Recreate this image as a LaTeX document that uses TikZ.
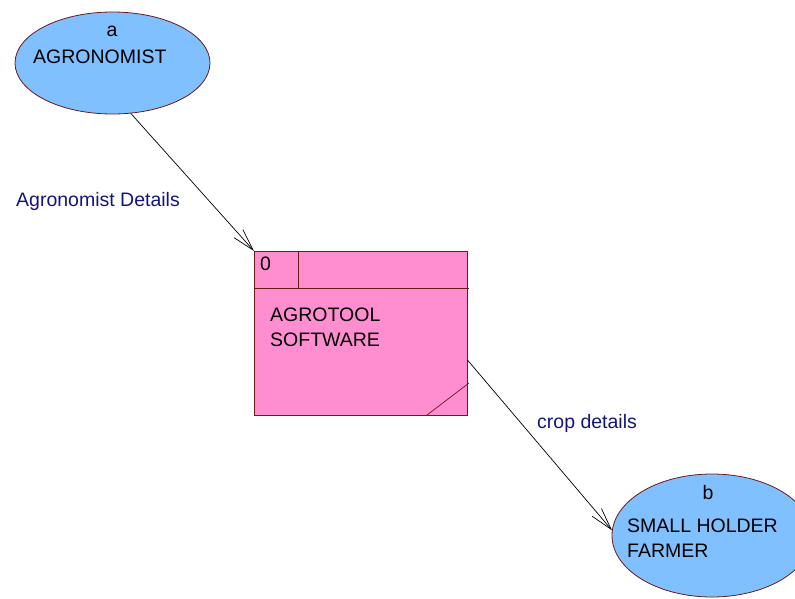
\documentclass[tikz,border=0pt]{standalone}
\usepackage{fontspec}
\setmainfont{Liberation Sans}
\usetikzlibrary{shapes.geometric,arrows.meta}
\definecolor{entityblue}{HTML}{80C0FF}
\definecolor{procpink}{HTML}{FF8ED0}
\definecolor{edgemaroon}{HTML}{6A1A1A}
\definecolor{flownavy}{HTML}{14147F}
\begin{document}
\begin{tikzpicture}[x=1pt,y=-1pt,
  every node/.style={font=\fontsize{19.5}{23}\selectfont},
  entity/.style={ellipse,draw=edgemaroon,fill=entityblue,line width=0.8pt,inner sep=0pt},
  proc/.style={rectangle,draw=edgemaroon,fill=procpink,line width=0.8pt,inner sep=0pt,
               minimum width=213pt,minimum height=164pt},
  txt/.style={anchor=base west,inner sep=0pt},
  flowlabel/.style={anchor=base west,inner sep=0pt,text=flownavy},
  flow/.style={line width=0.7pt,-{Straight Barb[length=22pt,width=12pt,line width=0.7pt]}}]
\useasboundingbox (0,0) rectangle (795,598);

% external entity: agronomist
\node[entity,minimum width=195pt,minimum height=102pt] (a) at (112.5,63) {};
\node[anchor=base,inner sep=0pt] (alab) at (112,36) {a};
\node[txt] (aname) at (33,63) {AGRONOMIST};

% process 0
\node[proc,anchor=north west] (p) at (254,251) {};
\coordinate (hl) at (254,288);
\coordinate (hr) at (469,288);
\coordinate (dv) at (298,288);
\coordinate (dg1) at (427,415);
\coordinate (dg2) at (469,383);
\draw[edgemaroon,line width=0.7pt] (hl) -- (hr);
\draw[edgemaroon,line width=0.7pt] (dv) -- (dv |- p.north);
\draw[edgemaroon,line width=0.7pt] (dg1) -- (dg2);
\node[txt] (pid) at (260,270) {0};
\node[txt,align=left] (pname) at (270,321) {AGROTOOL};
\node[txt] (pname2) at (270,346) {SOFTWARE};

% external entity: small holder farmer
\node[entity,minimum width=200pt,minimum height=123pt] (b) at (712,535.5) {};
\node[anchor=base,inner sep=0pt] (blab) at (708,499) {b};
\node[txt] (bname) at (627,532) {SMALL HOLDER};
\node[txt] (bname2) at (627,557) {FARMER};

% data flows
\draw[flow] (a.290) -- (p.north west);
\draw[flow] ([yshift=-27pt]p.east) -- (b.177);
\node[flowlabel] (f1) at (16,206) {Agronomist Details};
\node[flowlabel] (f2) at (537,428) {crop details};
\end{tikzpicture}
\end{document}
